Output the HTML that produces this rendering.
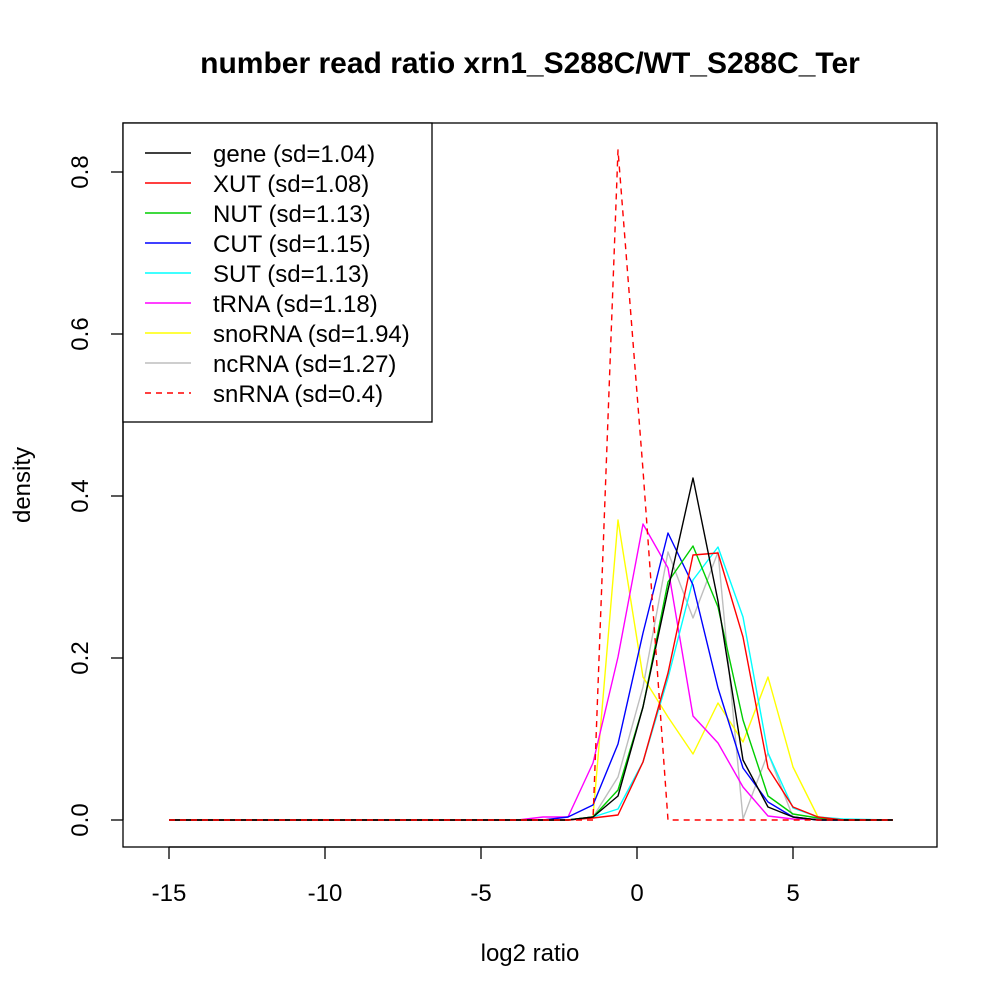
<!DOCTYPE html>
<html><head><meta charset="utf-8"><style>body{margin:0;background:#fff}svg{display:block}text{font-family:"Liberation Sans",sans-serif}</style></head>
<body>
<svg width="1000" height="1000" viewBox="0 0 1000 1000" xmlns="http://www.w3.org/2000/svg">
<rect width="1000" height="1000" fill="#fff"/>
<text x="530" y="73" font-size="30" font-weight="bold" text-anchor="middle">number read ratio xrn1_S288C/WT_S288C_Ter</text>
<rect x="123" y="123" width="814" height="724" fill="none" stroke="#000" stroke-width="1.3"/>
<g stroke="#000" stroke-width="1.3">
<line x1="169" y1="847" x2="793" y2="847"/>
<line x1="169" y1="847" x2="169" y2="859"/><line x1="325" y1="847" x2="325" y2="859"/><line x1="481" y1="847" x2="481" y2="859"/><line x1="637" y1="847" x2="637" y2="859"/><line x1="793" y1="847" x2="793" y2="859"/>
<line x1="123" y1="172" x2="123" y2="820"/>
<line x1="111" y1="820" x2="123" y2="820"/><line x1="111" y1="658" x2="123" y2="658"/><line x1="111" y1="496" x2="123" y2="496"/><line x1="111" y1="334" x2="123" y2="334"/><line x1="111" y1="172" x2="123" y2="172"/>
</g>
<g font-size="24" text-anchor="middle">
<text x="169" y="901">-15</text><text x="325" y="901">-10</text><text x="481" y="901">-5</text><text x="637" y="901">0</text><text x="793" y="901">5</text>
<text x="530" y="961">log2 ratio</text>
<text transform="translate(88,820) rotate(-90)">0.0</text>
<text transform="translate(88,658) rotate(-90)">0.2</text>
<text transform="translate(88,496) rotate(-90)">0.4</text>
<text transform="translate(88,334) rotate(-90)">0.6</text>
<text transform="translate(88,172) rotate(-90)">0.8</text>
<text transform="translate(30,485) rotate(-90)">density</text>
</g>
<g fill="none" stroke-width="1.4" stroke-linejoin="round">
<polyline stroke="#bebebe" points="169,820 568,820 593,817 618,777 643,687 668,552 693,618 718,552 743,819 768,753 793,817 818,820 893,820"/>
<polyline stroke="#ffff00" points="169,820 568,820 593,817 618,520 643,677 668,717 693,754 718,703 743,742 768,677 793,767 818,817 843,820 893,820"/>
<polyline stroke="#ff00ff" points="169,820 518,820 543,817 568,817 593,763 618,657 643,524 668,568 693,716 718,743 743,787 768,816 793,819 893,820"/>
<polyline stroke="#00ffff" points="169,820 568,820 593,817 618,809 643,762 668,678 693,580 718,547 743,617 768,753 793,808 818,817 843,819 893,820"/>
<polyline stroke="#0000ff" points="169,820 543,820 568,817 593,805 618,744 643,633 668,533 693,585 718,688 743,768 768,802 793,817 818,820 893,820"/>
<polyline stroke="#00cd00" points="169,820 568,820 593,817 618,790 643,707 668,582 693,546 718,607 743,720 768,796 793,814 818,818 843,820 893,820"/>
<polyline stroke="#ff0000" points="169,820 568,820 593,818 618,815 643,762 668,673 693,555 718,553 743,637 768,768 793,807 818,817 843,820 893,820"/>
<polyline stroke="#000" points="169,820 568,820 593,817 618,796 643,707 668,590 693,478 718,601 743,760 768,807 793,817 818,820 893,820"/>
<polyline stroke="#ff0000" stroke-dasharray="6,5" points="169,820 593,820 618,150 643,470 668,820 893,820"/>
</g>
<rect x="123" y="123" width="309" height="299" fill="#fff" stroke="#000" stroke-width="1.3"/>
<g stroke-width="1.4">
<line x1="145" x2="191" y1="153" y2="153" stroke="#000"/>
<line x1="145" x2="191" y1="183" y2="183" stroke="#ff0000"/>
<line x1="145" x2="191" y1="213" y2="213" stroke="#00cd00"/>
<line x1="145" x2="191" y1="243" y2="243" stroke="#0000ff"/>
<line x1="145" x2="191" y1="273" y2="273" stroke="#00ffff"/>
<line x1="145" x2="191" y1="303" y2="303" stroke="#ff00ff"/>
<line x1="145" x2="191" y1="333" y2="333" stroke="#ffff00"/>
<line x1="145" x2="191" y1="363" y2="363" stroke="#bebebe"/>
<line x1="145" x2="191" y1="393" y2="393" stroke="#ff0000" stroke-dasharray="6,5"/>
</g>
<g font-size="24">
<text x="213" y="162">gene (sd=1.04)</text>
<text x="213" y="192">XUT (sd=1.08)</text>
<text x="213" y="222">NUT (sd=1.13)</text>
<text x="213" y="252">CUT (sd=1.15)</text>
<text x="213" y="282">SUT (sd=1.13)</text>
<text x="213" y="312">tRNA (sd=1.18)</text>
<text x="213" y="342">snoRNA (sd=1.94)</text>
<text x="213" y="372">ncRNA (sd=1.27)</text>
<text x="213" y="402">snRNA (sd=0.4)</text>
</g>
</svg>
</body></html>
